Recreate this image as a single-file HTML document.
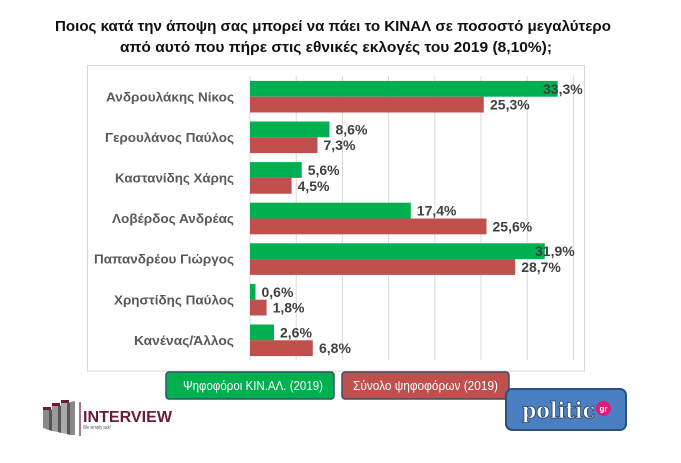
<!DOCTYPE html>
<html><head><meta charset="utf-8"><style>
html,body{margin:0;padding:0;background:#fff;}
svg{display:block;}
</style></head><body>
<svg width="681" height="463" viewBox="0 0 681 463" xmlns="http://www.w3.org/2000/svg">
<rect x="0" y="0" width="681" height="463" fill="#fff"/>
<g font-family="'Liberation Sans', 'DejaVu Sans', sans-serif" font-weight="bold" fill="#111">
<text x="55" y="31" font-size="15" textLength="556" lengthAdjust="spacingAndGlyphs">Ποιος κατά την άποψη σας μπορεί να πάει το ΚΙΝΑΛ σε ποσοστό μεγαλύτερο</text>
<text x="120" y="52" font-size="15" textLength="432" lengthAdjust="spacingAndGlyphs">από αυτό που πήρε στις εθνικές εκλογές του 2019 (8,10%);</text>
</g>
<rect x="87.5" y="65.5" width="497" height="305.5" fill="#fff" stroke="#d9d9d9" stroke-width="1"/>
<g stroke="#d9d9d9" stroke-width="1">
<line x1="250" y1="76" x2="250" y2="360"/>
<line x1="296.2" y1="76" x2="296.2" y2="360"/>
<line x1="342.4" y1="76" x2="342.4" y2="360"/>
<line x1="388.6" y1="76" x2="388.6" y2="360"/>
<line x1="434.8" y1="76" x2="434.8" y2="360"/>
<line x1="481" y1="76" x2="481" y2="360"/>
<line x1="527.2" y1="76" x2="527.2" y2="360"/>
<line x1="573.4" y1="76" x2="573.4" y2="360"/>
</g>
<g>
<!-- bars: green top = 80.9 + 40.6 i ; red top = green top + 15.8 -->
<rect x="250" y="80.9" width="307.7" height="15.8" fill="#00b050"/>
<rect x="250" y="96.7" width="233.8" height="15.8" fill="#c0504d"/>
<rect x="250" y="121.5" width="79.5" height="15.8" fill="#00b050"/>
<rect x="250" y="137.3" width="67.5" height="15.8" fill="#c0504d"/>
<rect x="250" y="162.1" width="51.7" height="15.8" fill="#00b050"/>
<rect x="250" y="177.9" width="41.6" height="15.8" fill="#c0504d"/>
<rect x="250" y="202.7" width="160.8" height="15.8" fill="#00b050"/>
<rect x="250" y="218.5" width="236.5" height="15.8" fill="#c0504d"/>
<rect x="250" y="243.3" width="294.8" height="15.8" fill="#00b050"/>
<rect x="250" y="259.1" width="265.2" height="15.8" fill="#c0504d"/>
<rect x="250" y="283.9" width="5.5" height="15.8" fill="#00b050"/>
<rect x="250" y="299.7" width="16.6" height="15.8" fill="#c0504d"/>
<rect x="250" y="324.5" width="24.0" height="15.8" fill="#00b050"/>
<rect x="250" y="340.3" width="62.8" height="15.8" fill="#c0504d"/>
</g>
<g font-family="'Liberation Sans', 'DejaVu Sans', sans-serif" font-weight="bold" font-size="13" fill="#595959" text-anchor="end">
<text x="234" y="101.3" textLength="128" lengthAdjust="spacingAndGlyphs">Ανδρουλάκης Νίκος</text>
<text x="234" y="141.9" textLength="129" lengthAdjust="spacingAndGlyphs">Γερουλάνος Παύλος</text>
<text x="234" y="182.5" textLength="119" lengthAdjust="spacingAndGlyphs">Καστανίδης Χάρης</text>
<text x="234" y="223.1" textLength="122" lengthAdjust="spacingAndGlyphs">Λοβέρδος Ανδρέας</text>
<text x="234" y="263.7" textLength="140" lengthAdjust="spacingAndGlyphs">Παπανδρέου Γιώργος</text>
<text x="234" y="304.3" textLength="120" lengthAdjust="spacingAndGlyphs">Χρηστίδης Παύλος</text>
<text x="234" y="344.9" textLength="100" lengthAdjust="spacingAndGlyphs">Κανένας/Άλλος</text>
</g>
<g font-family="'Liberation Sans', 'DejaVu Sans', sans-serif" font-weight="bold" font-size="14" fill="#404040">
<text x="543" y="93.8">33,3%</text>
<text x="490" y="109.6">25,3%</text>
<text x="335.5" y="134.4">8,6%</text>
<text x="323.5" y="150.2">7,3%</text>
<text x="307.7" y="175">5,6%</text>
<text x="297.6" y="190.8">4,5%</text>
<text x="416.8" y="215.6">17,4%</text>
<text x="492.5" y="231.4">25,6%</text>
<text x="535" y="256.2">31,9%</text>
<text x="521.2" y="272">28,7%</text>
<text x="261.5" y="296.8">0,6%</text>
<text x="272.6" y="312.6">1,8%</text>
<text x="280" y="337.4">2,6%</text>
<text x="319" y="353.2">6,8%</text>
</g>
<!-- legend -->
<rect x="166" y="372" width="168" height="27" rx="3" fill="#00b050" stroke="#34506a" stroke-width="1.5"/>
<rect x="342" y="372" width="167" height="27" rx="3" fill="#c0504d" stroke="#34506a" stroke-width="1.5"/>
<g font-family="'Liberation Sans', 'DejaVu Sans', sans-serif" font-size="13" fill="#fff">
<text x="183" y="390" textLength="140" lengthAdjust="spacingAndGlyphs">Ψηφοφόροι ΚΙΝ.ΑΛ. (2019)</text>
<text x="353" y="390" textLength="145" lengthAdjust="spacingAndGlyphs">Σύνολο ψηφοφόρων (2019)</text>
</g>
<!-- politic logo -->
<rect x="506" y="389" width="120" height="41" rx="6" fill="#4a7fc1" stroke="#2c4f7e" stroke-width="2"/>
<text x="522" y="418" font-family="'DejaVu Serif', 'Liberation Serif', serif" font-weight="bold" font-size="22" fill="#fff" stroke="#2a3f66" stroke-width="0.8" textLength="73" lengthAdjust="spacingAndGlyphs">politic</text>
<circle cx="603.5" cy="408.5" r="7.5" fill="#e2187b"/>
<text x="603.5" y="411.5" font-family="'Liberation Sans', sans-serif" font-weight="bold" font-size="8" fill="#fff" text-anchor="middle">gr</text>
<!-- interview logo -->
<g>
<polygon points="43,410 49,408 49,430 43,428" fill="#8a8a8a"/>
<polygon points="49,408 52,410 52,431 49,430" fill="#555"/>
<rect x="43" y="407" width="8" height="3" fill="#6d1a3c"/>
<polygon points="52,406 58,404 58,432 52,431" fill="#9a9a9a"/>
<polygon points="58,404 61,406 61,433 58,432" fill="#555"/>
<rect x="52" y="403" width="8" height="3" fill="#6d1a3c"/>
<polygon points="61,403 67,401 67,434 61,433" fill="#aaa"/>
<polygon points="67,401 70,403 70,435 67,434" fill="#555"/>
<rect x="61" y="400" width="8" height="3" fill="#6d1a3c"/>
<polygon points="70,402 75,401 75,435 70,435" fill="#888"/>
</g>
<line x1="80" y1="402" x2="80" y2="436" stroke="#6d1a3c" stroke-width="1.2"/>
<text x="83" y="422" font-family="'Liberation Sans', sans-serif" font-weight="bold" font-size="16" fill="#6d1a3c" textLength="89" lengthAdjust="spacingAndGlyphs">INTERVIEW</text>
<text x="83" y="429" font-family="'Liberation Sans', sans-serif" font-size="5" fill="#555" textLength="28" lengthAdjust="spacingAndGlyphs">We simply ask!</text>
</svg>
</body></html>
